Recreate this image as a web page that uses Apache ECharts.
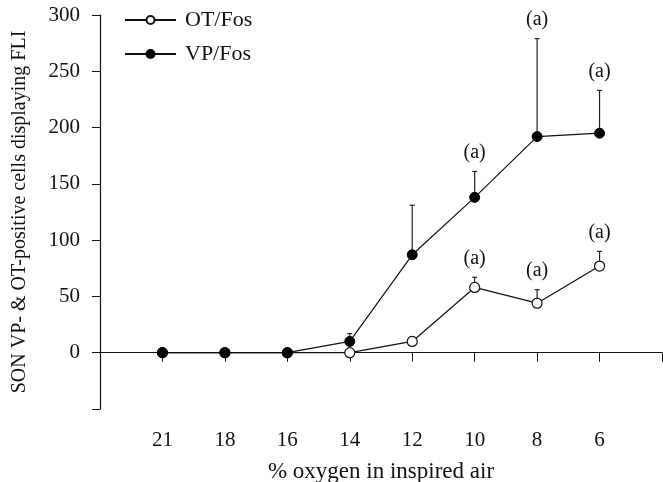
<!DOCTYPE html>
<html>
<head>
<meta charset="utf-8">
<script src="https://cdn.jsdelivr.net/npm/echarts@6/dist/echarts.min.js"></script>
<style>
  html, body { margin: 0; padding: 0; background: #fff; }
  #chart { width: 663px; height: 482px; }
</style>
</head>
<body>
<div id="chart"></div>
<script>
// oxygen levels (blank slots at both ends of the axis)
const categories = ['', '21', '18', '16', '14', '12', '10', '8', '6', ''];
const yTicks = [-50, 0, 50, 100, 150, 200, 250, 300];

// mean values
const otMean = [null, 0, 0, 0, 0, 10, 58, 44, 77, null];
const vpMean = [null, 0, 0, 0, 10, 87, 138, 192, 195, null];
// error bar tops (mean + SEM)
const otTop = [null, null, null, null, null, 14, 67, 56, 90, null];
const vpTop = [null, null, null, null, 17, 131, 161, 279, 233, null];
// significance marks "(a)"
const otSig = [0, 0, 0, 0, 0, 0, 1, 1, 1, 0];
const vpSig = [0, 0, 0, 0, 0, 0, 1, 1, 1, 0];

const font = 'Liberation Serif, Times New Roman, serif';

function errData(mean, top, sig) {
  const out = [];
  mean.forEach((m, i) => {
    if (m !== null && top[i] !== null) out.push([i, m, top[i], sig[i]]);
  });
  return out;
}

// vertical error bar (upper half only) + optional "(a)" mark above it
function renderErr(params, api) {
  const base = api.coord([api.value(0), api.value(1)]);
  const top = api.coord([api.value(0), api.value(2)]);
  const children = [
    { type: 'line', shape: { x1: base[0], y1: base[1], x2: top[0], y2: top[1] },
      style: { stroke: '#222', lineWidth: 1.2 } },
    { type: 'line', shape: { x1: top[0] - 2.5, y1: top[1], x2: top[0] + 2.5, y2: top[1] },
      style: { stroke: '#222', lineWidth: 1.2 } }
  ];
  if (api.value(3)) {
    children.push({
      type: 'text',
      style: { text: '(a)', x: top[0], y: top[1] - 19, align: 'center', verticalAlign: 'middle',
        font: '20px ' + font, fill: '#111' }
    });
  }
  return { type: 'group', children };
}

const chart = echarts.init(document.getElementById('chart'));
chart.setOption({
  animation: false,
  textStyle: { fontFamily: font, color: '#111' },
  grid: { left: 100, right: 1, top: 15, bottom: 73, containLabel: false, outerBoundsMode: 'none' },
  legend: {
    orient: 'vertical',
    left: 124,
    top: 9,
    padding: 0,
    itemWidth: 51,
    itemHeight: 10,
    itemGap: 12,
    textStyle: { fontFamily: font, fontSize: 22, color: '#111', padding: [0, 0, 0, 4] },
    data: ['OT/Fos', 'VP/Fos']
  },
  xAxis: {
    type: 'category',
    data: categories,
    boundaryGap: false,
    name: '% oxygen in inspired air',
    nameLocation: 'middle',
    nameGap: 51,
    nameTextStyle: { fontFamily: font, fontSize: 23, color: '#111' },
    axisLine: { lineStyle: { color: '#111', width: 1.2 } },
    axisTick: { inside: false, length: 9, interval: 0, lineStyle: { color: '#111' } },
    axisLabel: { fontFamily: font, fontSize: 21, color: '#111', margin: 21, interval: 0 },
    splitLine: { show: false }
  },
  yAxis: {
    type: 'value',
    min: yTicks[0],
    max: yTicks[yTicks.length - 1],
    interval: 50,
    name: 'SON VP- & OT-positive cells displaying FLI',
    nameLocation: 'middle',
    nameGap: 70,
    nameTextStyle: { fontFamily: font, fontSize: 20, color: '#111' },
    axisLine: { show: true, lineStyle: { color: '#111', width: 1.2 } },
    axisTick: { show: true, length: 8, lineStyle: { color: '#111' } },
    axisLabel: {
      fontFamily: font, fontSize: 21, color: '#111', margin: 20,
      formatter: v => (v < 0 ? '' : v)
    },
    splitLine: { show: false }
  },
  series: [
    {
      type: 'custom',
      name: 'otErr',
      renderItem: renderErr,
      data: errData(otMean, otTop, otSig),
      encode: { x: 0, y: [1, 2] },
      z: 1,
      silent: true
    },
    {
      type: 'custom',
      name: 'vpErr',
      renderItem: renderErr,
      data: errData(vpMean, vpTop, vpSig),
      encode: { x: 0, y: [1, 2] },
      z: 1,
      silent: true
    },
    {
      name: 'OT/Fos',
      type: 'line',
      data: otMean,
      symbol: 'circle',
      symbolSize: 10,
      showAllSymbol: true,
      lineStyle: { color: '#111', width: 1.2 },
      itemStyle: { color: '#fff', borderColor: '#111', borderWidth: 1.2 },
      z: 3
    },
    {
      name: 'VP/Fos',
      type: 'line',
      data: vpMean,
      symbol: 'circle',
      symbolSize: 10,
      showAllSymbol: true,
      lineStyle: { color: '#111', width: 1.2 },
      itemStyle: { color: '#000', borderColor: '#000', borderWidth: 1 },
      z: 4
    }
  ]
});
</script>
</body>
</html>
